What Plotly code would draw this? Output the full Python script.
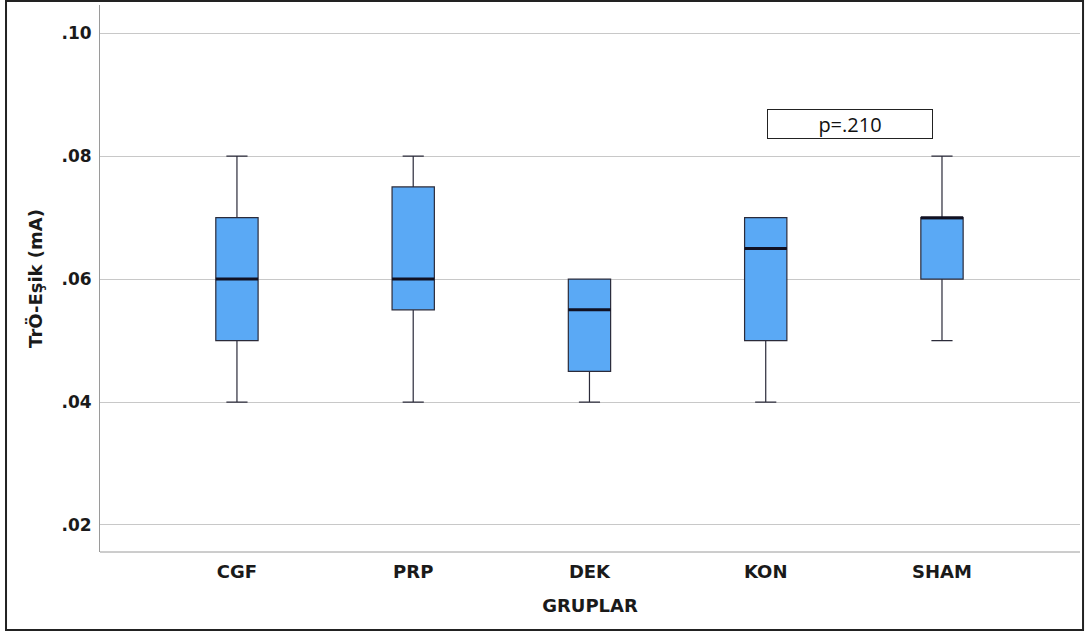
import plotly.graph_objects as go

groups = ["CGF", "PRP", "DEK", "KON", "SHAM"]
lower = [0.04, 0.04, 0.04, 0.04, 0.05]
q1 = [0.05, 0.055, 0.045, 0.05, 0.06]
median = [0.06, 0.06, 0.055, 0.065, 0.07]
q3 = [0.07, 0.075, 0.06, 0.07, 0.07]
upper = [0.08, 0.08, 0.06, 0.07, 0.08]
y_ticks = [0.02, 0.04, 0.06, 0.08, 0.10]
y_tick_labels = [".02", ".04", ".06", ".08", ".10"]
p_text = "p=.210"

xs = list(range(len(groups)))
box_w = 0.24
FONT = "DejaVu Sans"

fig = go.Figure()
fig.add_trace(go.Box(
    x=xs, q1=q1, median=median, q3=q3, lowerfence=lower, upperfence=upper,
    width=box_w, whiskerwidth=0.5,
    fillcolor="#5aa9f5", line=dict(color="#2b2b3a", width=1.2),
    boxpoints=False, showlegend=False, hoverinfo="skip",
))
# thick median lines
for i, m in zip(xs, median):
    fig.add_trace(go.Scatter(
        x=[i - box_w / 2, i + box_w / 2], y=[m, m], mode="lines",
        line=dict(color="#111122", width=3), showlegend=False, hoverinfo="skip",
    ))

fig.update_layout(
    width=1088, height=632,
    margin=dict(l=100, r=8, t=5, b=80),
    paper_bgcolor="white", plot_bgcolor="white",
    font=dict(family=FONT, color="#222222"),
    xaxis=dict(
        range=[-0.777, 4.783], tickvals=xs, ticktext=groups,
        showgrid=False, zeroline=False, showline=False, ticks="",
        ticklabelstandoff=7,
        tickfont=dict(family=FONT, size=18, weight="bold", color="#1a1a1a"),
        title=dict(text="GRUPLAR", font=dict(family=FONT, size=18, weight="bold", color="#1a1a1a"), standoff=18),
    ),
    yaxis=dict(
        range=[0.0156, 0.1046], tickvals=y_ticks, ticktext=y_tick_labels,
        showgrid=True, gridcolor="#c8c8c8", gridwidth=1, zeroline=False,
        showline=True, linecolor="#9a9a9a", linewidth=1, ticks="",
        ticklabelstandoff=4,
        tickfont=dict(family=FONT, size=17, weight="bold", color="#1a1a1a"),
        title=dict(text="TrÖ-Eşik (mA)", font=dict(family=FONT, size=18, weight="bold", color="#1a1a1a"), standoff=14),
    ),
    shapes=[
        dict(type="line", xref="paper", yref="paper", x0=0, x1=1, y0=0, y1=0,
             line=dict(color="#9a9a9a", width=1)),
        dict(type="rect", xref="paper", yref="paper", x0=-0.0959, x1=1.0031, y0=-0.1426, y1=1.0073,
             line=dict(color="#222222", width=2)),
    ],
    annotations=[
        dict(x=3.478, y=0.0853, xref="x", yref="y", text=p_text, showarrow=False,
             font=dict(size=20, color="#111111", family="Open Sans"),
             bordercolor="#222222", borderwidth=1, width=162, height=26, bgcolor="white"),
    ],
)

fig.write_html("out.html", config={"displayModeBar": False},
               post_script="document.body.style.margin='0';document.body.style.overflow='hidden';")
